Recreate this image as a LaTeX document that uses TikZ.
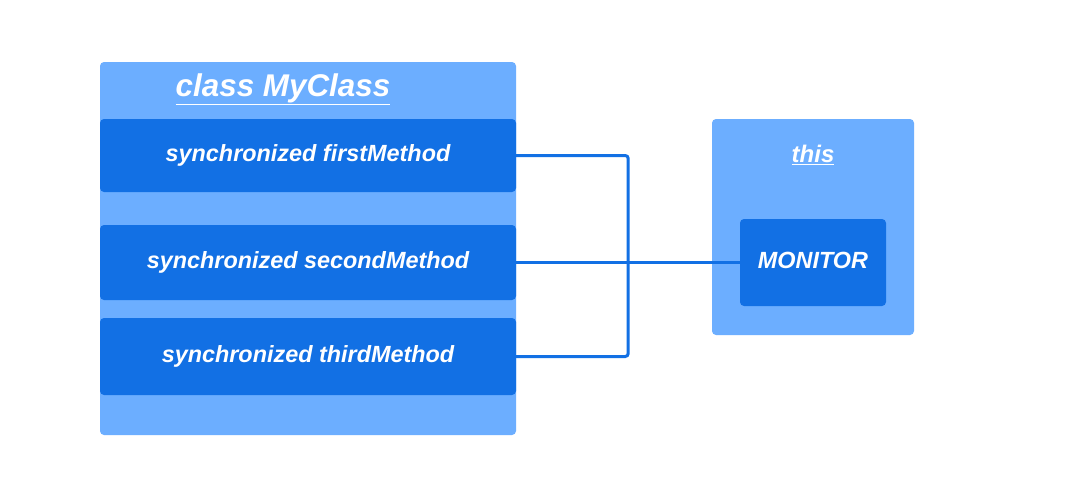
\documentclass[tikz,border=0pt]{standalone}
\usepackage{fontspec}
\setmainfont{Liberation Sans}
\definecolor{lightblue}{RGB}{108,174,255}
\definecolor{darkblue}{RGB}{18,112,228}
\begin{document}
\begin{tikzpicture}[x=1pt,y=-1pt,
  outerbox/.style={fill=lightblue, draw=none, rounded corners=4pt, inner sep=0pt},
  methodbox/.style={fill=darkblue, draw=none, rounded corners=4pt, inner sep=0pt, minimum width=416pt, text=white, font=\fontsize{23.4}{28}\selectfont\bfseries\itshape},
  titletext/.style={text=white, inner sep=0pt},
  conn/.style={draw=darkblue, line width=3pt, rounded corners=3pt}
]
\useasboundingbox (0,0) rectangle (1067,487);
\fill[white] (0,0) rectangle (1067,487);
\node[outerbox, minimum width=416pt, minimum height=373pt] (cls) at (308,248.5) {};
\node[titletext, font=\fontsize{31.4}{36}\selectfont\bfseries\itshape] (clst) at (283,89) {\underline{class MyClass}};
\node[methodbox, minimum height=73pt] (m1) at (308,155.5) {\raisebox{2pt}{synchronized firstMethod}};
\node[methodbox, minimum height=75pt] (m2) at (308,262.5) {\raisebox{2pt}{synchronized secondMethod}};
\node[methodbox, minimum height=77pt] (m3) at (308,356.5) {\raisebox{3pt}{synchronized thirdMethod}};
\node[outerbox, minimum width=202pt, minimum height=216pt] (thisbox) at (813,227) {};
\node[titletext, font=\fontsize{24}{28}\selectfont\bfseries\itshape] (thist) at (813,155) {\underline{this}};
\node[methodbox, minimum width=146pt, minimum height=87pt] (mon) at (813,262.5) {\raisebox{4pt}{MONITOR}};
\draw[conn] (m1.east) -- ++(112,0) |- (m3.east);
\draw[conn, rounded corners=0pt] (m2.east) -- (mon.west);
\end{tikzpicture}
\end{document}
